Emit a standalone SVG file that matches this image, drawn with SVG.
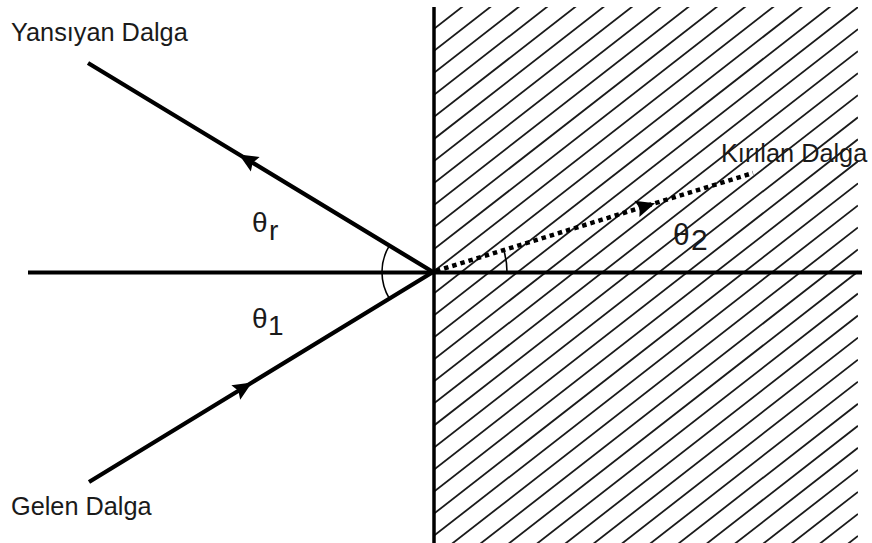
<svg xmlns="http://www.w3.org/2000/svg" width="872" height="543" viewBox="0 0 872 543">
<style>
.lbl{font-family:"Liberation Sans",Arial,sans-serif;font-size:25.3px;fill:#1a1a1a}
.th{font-family:"Liberation Sans",Arial,sans-serif;font-size:28px;fill:#1a1a1a}
.hatch line{stroke:#1a1a1a;stroke-width:1.8}
.axis{stroke:#000;stroke-width:4;fill:none}
.ray{stroke:#000;stroke-width:4.3;fill:none;marker-mid:url(#ah)}
.dot{stroke:#000;stroke-width:4.5;fill:none;stroke-dasharray:4.5 4;marker-mid:url(#ah)}
.arc{stroke:#000;stroke-width:1.6;fill:none}
</style>
<defs>
<marker id="ah" markerUnits="userSpaceOnUse" viewBox="-1 -10 22 20" refX="19" refY="0" markerWidth="22" markerHeight="20" orient="auto">
<path d="M0,-8.5 L19,0 L0,8.5 L3,0 Z" fill="#000"/>
</marker>
<clipPath id="hc"><rect x="434" y="7" width="424" height="536"/></clipPath>
</defs>
<rect width="872" height="543" fill="#fff"/>
<g class="hatch" clip-path="url(#hc)">
<line x1="432" y1="30.37" x2="858" y2="-301.48"/>
<line x1="432" y1="52.41" x2="858" y2="-279.44"/>
<line x1="432" y1="74.45" x2="858" y2="-257.40"/>
<line x1="432" y1="96.48" x2="858" y2="-235.37"/>
<line x1="432" y1="118.52" x2="858" y2="-213.33"/>
<line x1="432" y1="140.56" x2="858" y2="-191.29"/>
<line x1="432" y1="162.60" x2="858" y2="-169.25"/>
<line x1="432" y1="184.64" x2="858" y2="-147.21"/>
<line x1="432" y1="206.67" x2="858" y2="-125.18"/>
<line x1="432" y1="228.71" x2="858" y2="-103.14"/>
<line x1="432" y1="250.75" x2="858" y2="-81.10"/>
<line x1="432" y1="272.79" x2="858" y2="-59.06"/>
<line x1="432" y1="294.83" x2="858" y2="-37.02"/>
<line x1="432" y1="316.86" x2="858" y2="-14.99"/>
<line x1="432" y1="338.90" x2="858" y2="7.05"/>
<line x1="432" y1="360.94" x2="858" y2="29.09"/>
<line x1="432" y1="382.98" x2="858" y2="51.13"/>
<line x1="432" y1="405.02" x2="858" y2="73.17"/>
<line x1="432" y1="427.05" x2="858" y2="95.20"/>
<line x1="432" y1="449.09" x2="858" y2="117.24"/>
<line x1="432" y1="471.13" x2="858" y2="139.28"/>
<line x1="432" y1="493.17" x2="858" y2="161.32"/>
<line x1="432" y1="515.21" x2="858" y2="183.36"/>
<line x1="432" y1="537.24" x2="858" y2="205.39"/>
<line x1="432" y1="559.28" x2="858" y2="227.43"/>
<line x1="432" y1="581.32" x2="858" y2="249.47"/>
<line x1="432" y1="603.36" x2="858" y2="271.51"/>
<line x1="432" y1="625.40" x2="858" y2="293.55"/>
<line x1="432" y1="647.43" x2="858" y2="315.58"/>
<line x1="432" y1="669.47" x2="858" y2="337.62"/>
<line x1="432" y1="691.51" x2="858" y2="359.66"/>
<line x1="432" y1="713.55" x2="858" y2="381.70"/>
<line x1="432" y1="735.59" x2="858" y2="403.74"/>
<line x1="432" y1="757.62" x2="858" y2="425.77"/>
<line x1="432" y1="779.66" x2="858" y2="447.81"/>
<line x1="432" y1="801.70" x2="858" y2="469.85"/>
<line x1="432" y1="823.74" x2="858" y2="491.89"/>
<line x1="432" y1="845.78" x2="858" y2="513.93"/>
<line x1="432" y1="867.81" x2="858" y2="535.96"/>
</g>
<g id="interface">
<line class="axis" x1="434" y1="7" x2="434" y2="543" style="stroke-width:3.5"/>
<line class="axis" x1="28" y1="272.5" x2="862" y2="272.5"/>
</g>
<g id="connectors">
<path id="incident" class="ray" d="M89,482 L252,382.5 L433,272"/>
<path id="reflected" class="ray" d="M433,272 L239,154.5 L88,63"/>
<path id="refracted" class="dot" d="M436,271 L655,203.3 L753,173"/>
<path id="arc-left" class="arc" d="M389.4,245.6 A51,51 0 0 0 389.4,298.6"/>
<path id="arc-right" class="arc" d="M507,272 A74,74 0 0 0 503.7,250.1"/>
</g>
<g id="label-yansiyan"><text class="lbl" x="11" y="41">Yansıyan Dalga</text></g>
<g id="label-gelen"><text class="lbl" x="11" y="515">Gelen Dalga</text></g>
<g id="label-kirilan"><text class="lbl" x="721" y="162">Kırılan Dalga</text></g>
<g id="label-theta-r"><text class="th" x="252" y="232">θ</text><text class="th" x="269" y="240">r</text></g>
<g id="label-theta-1"><text class="th" x="252" y="328">θ</text><text class="th" x="268" y="335">1</text></g>
<g id="label-theta-2"><text class="th" x="673" y="245" style="font-size:30px">θ</text><text class="th" x="691" y="250" style="font-size:30px">2</text></g>
</svg>
